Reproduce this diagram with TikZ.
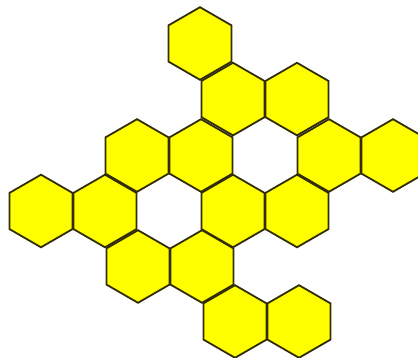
\documentclass[tikz,border=0pt]{standalone}
\definecolor{hexedge}{RGB}{50,45,5}
\definecolor{hexfill}{RGB}{255,255,0}
\begin{document}
\begin{tikzpicture}[x=1pt,y=-1pt,
  hexcell/.style={fill=hexfill,draw=hexedge,line width=1.8pt,line join=miter}]
\useasboundingbox (0,0) rectangle (418,358);
\clip (0,0) rectangle (418,358);
\def\R{36.3}
\foreach \cx/\cy in {
  200/43.5,
  233/99.1, 297/99.1,
  137/155.5, 201/155.5, 329/155.5, 393/155.5,
  41/211, 105/211, 233/211, 297/211,
  138/266.5, 202/266.5,
  235/321.5, 299/321.5}
{
  \draw[hexcell] (\cx,\cy) +(90:\R) -- +(150:\R) -- +(210:\R) -- +(270:\R) -- +(330:\R) -- +(30:\R) -- cycle;
}
\end{tikzpicture}
\end{document}
